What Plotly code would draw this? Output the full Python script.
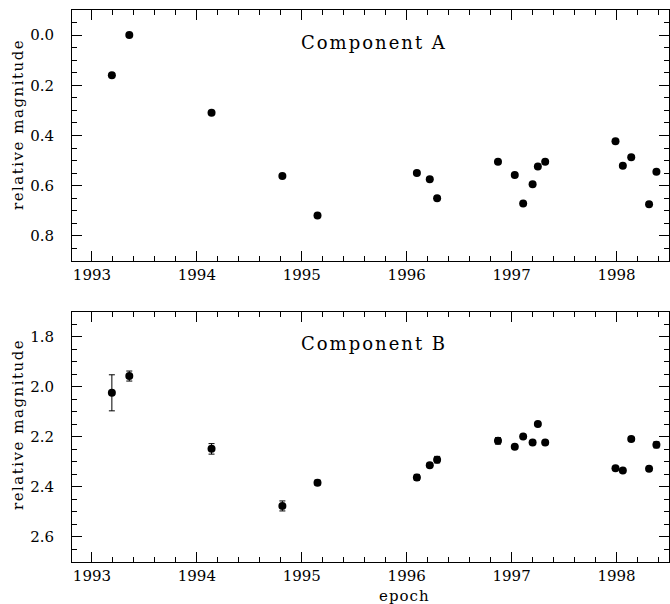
import plotly.graph_objects as go

# ---- data ----
epoch_a = [1993.19, 1993.356, 1994.14, 1994.815, 1995.15, 1996.097, 1996.22, 1996.29,
           1996.87, 1997.03, 1997.11, 1997.20, 1997.25, 1997.32, 1997.99, 1998.06,
           1998.14, 1998.31, 1998.38]
mag_a = [0.160, 0.000, 0.309, 0.561, 0.719, 0.549, 0.574, 0.650,
         0.505, 0.557, 0.671, 0.594, 0.524, 0.505, 0.423, 0.521,
         0.487, 0.674, 0.544]
err_a = [0.005] * len(epoch_a)

epoch_b = epoch_a
mag_b = [2.024, 1.957, 2.248, 2.476, 2.383, 2.362, 2.313, 2.291,
         2.216, 2.240, 2.199, 2.223, 2.149, 2.223, 2.325, 2.334,
         2.209, 2.327, 2.232]
err_b = [0.072, 0.020, 0.021, 0.020, 0.010, 0.012, 0.008, 0.013,
         0.013, 0.005, 0.006, 0.008, 0.006, 0.008, 0.006, 0.006,
         0.008, 0.008, 0.012]

x_ticks = [1993, 1994, 1995, 1996, 1997, 1998]
ya_ticks = [0.0, 0.2, 0.4, 0.6, 0.8]
yb_ticks = [1.8, 2.0, 2.2, 2.4, 2.6]

FONT = "DejaVu Serif"

fig = go.Figure()
fig.add_trace(go.Scatter(
    x=epoch_a, y=mag_a, mode="markers", xaxis="x", yaxis="y",
    marker=dict(color="black", size=8),
    error_y=dict(type="data", array=err_a, color="black", thickness=1, width=3),
    showlegend=False))
fig.add_trace(go.Scatter(
    x=epoch_b, y=mag_b, mode="markers", xaxis="x2", yaxis="y2",
    marker=dict(color="black", size=8),
    error_y=dict(type="data", array=err_b, color="black", thickness=1, width=3),
    showlegend=False))

xcommon = dict(
    range=[1992.81, 1998.5], tickvals=x_ticks, ticktext=[str(v) for v in x_ticks],
    ticks="inside", ticklen=10, tickwidth=1, tickcolor="black",
    minor=dict(ticks="inside", ticklen=5, dtick=0.2, tick0=1993, tickcolor="black"),
    showline=True, linecolor="black", linewidth=1, mirror="allticks",
    showgrid=False, zeroline=False, automargin=False,
    tickfont=dict(family=FONT, size=15, color="black"))

ycommon = dict(
    ticks="inside", ticklen=10, tickwidth=1, tickcolor="black",
    showline=True, linecolor="black", linewidth=1, mirror="allticks",
    showgrid=False, zeroline=False, ticklabelstandoff=14, automargin=False,
    tickfont=dict(family=FONT, size=15, color="black"))


def spaced(t, px):
    return '<span style="letter-spacing:%spx">%s</span>' % (px, t)


fig.update_layout(
    width=670, height=604,
    margin=dict(l=72, r=1, t=10, b=42),
    paper_bgcolor="white", plot_bgcolor="white",
    xaxis=dict(domain=[0, 1], anchor="y", **xcommon),
    xaxis2=dict(domain=[0, 1], anchor="y2", **xcommon),
    yaxis=dict(domain=[0.5453, 1.0], anchor="x", range=[0.9, -0.1],
               tickvals=ya_ticks, ticktext=["%.1f" % v for v in ya_ticks],
               minor=dict(ticks="inside", ticklen=5, dtick=0.05, tick0=0, tickcolor="black"),
               **ycommon),
    yaxis2=dict(domain=[0.0, 0.4534], anchor="x2", range=[2.7, 1.7],
                tickvals=yb_ticks, ticktext=["%.1f" % v for v in yb_ticks],
                minor=dict(ticks="inside", ticklen=5, dtick=0.05, tick0=0, tickcolor="black"),
                **ycommon),
    annotations=[
        dict(text=spaced("Component A", 2), xref="paper", yref="paper", x=(374 - 72) / 597,
             y=(562 - 42) / 552, xanchor="center", yanchor="middle", showarrow=False,
             font=dict(family=FONT, size=18, color="black")),
        dict(text=spaced("Component B", 2), xref="paper", yref="paper", x=(374 - 72) / 597,
             y=(562 - 343) / 552, xanchor="center", yanchor="middle", showarrow=False,
             font=dict(family=FONT, size=18, color="black")),
        dict(text=spaced("relative magnitude", 1.5), xref="paper", yref="paper", x=(18 - 72) / 597,
             y=(562 - 125) / 552, xanchor="center", yanchor="middle", showarrow=False,
             textangle=-90, font=dict(family=FONT, size=15, color="black")),
        dict(text=spaced("relative magnitude", 1.5), xref="paper", yref="paper", x=(18 - 72) / 597,
             y=(562 - 425) / 552, xanchor="center", yanchor="middle", showarrow=False,
             textangle=-90, font=dict(family=FONT, size=15, color="black")),
        dict(text=spaced("epoch", 1), xref="paper", yref="paper", x=(404 - 72) / 597,
             y=(562 - 596) / 552, xanchor="center", yanchor="middle", showarrow=False,
             font=dict(family=FONT, size=15, color="black")),
    ],
)

fig.write_html("out.html", config={"displayModeBar": False},
               post_script="document.body.style.margin='0';document.body.style.padding='0';")
